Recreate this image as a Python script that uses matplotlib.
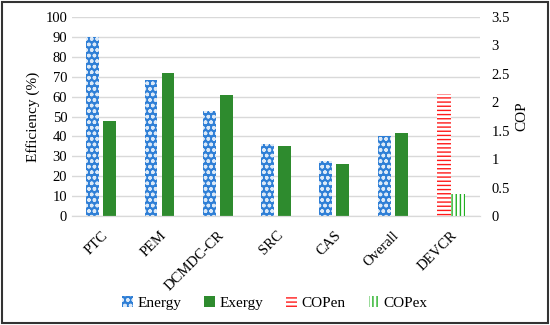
import matplotlib.pyplot as plt
import numpy as np

plt.rcParams['font.family'] = ['Liberation Serif', 'DejaVu Serif']
plt.rcParams['hatch.linewidth'] = 1.0

categories = ['PTC', 'PEM', 'DCMDC-CR', 'SRC', 'CAS', 'Overall', 'DEVCR']
energy = [90, 68.5, 53, 36, 27.5, 40, 0]
exergy = [47.5, 72, 61, 35, 26, 41.5, 0]
cop_en = [0, 0, 0, 0, 0, 0, 2.15]
cop_ex = [0, 0, 0, 0, 0, 0, 0.38]

x = np.arange(len(categories))
w = 0.22

fig = plt.figure(figsize=(5.5, 3.25), dpi=100)
ax = fig.add_axes([0.131, 0.335, 0.742, 0.613])
ax2 = ax.twinx()

ax.bar(x[:6] - 0.146, energy[:6], w, color='#2f7fd6', edgecolor='#dce9f7', hatch='ooo', linewidth=0, label='Energy', zorder=2)
ax.bar(x[:6] + 0.146, exergy[:6], w, color='#2e8b2e', linewidth=0, label='Exergy', zorder=2)
ax2.bar(x[6:] - 0.12, cop_en[6:], 0.24, color='white', edgecolor='#ff1a1a', hatch='----', linewidth=0, label='COPen', zorder=2)
ax2.bar(x[6:] + 0.12, cop_ex[6:], 0.24, color='white', edgecolor='#22b022', hatch='||||', linewidth=0, label='COPex', zorder=2)

ax.set_xlim(-0.5, 6.5)
ax.set_ylim(0, 100)
ax2.set_ylim(0, 3.5)
ax.set_yticks(np.arange(0, 101, 10))
ax2.set_yticks(np.arange(0, 3.6, 0.5))
ax2.set_yticklabels(['0', '0.5', '1', '1.5', '2', '2.5', '3', '3.5'])
ax.yaxis.grid(True, color='#d9d9d9', linewidth=1)
ax.set_axisbelow(True)

ax.set_xticks(x)
ax.set_xticklabels(categories, rotation=45, ha='right', rotation_mode='anchor', fontsize=10.5)
ax.tick_params(axis='y', length=0, labelsize=10.5)
ax.tick_params(axis='x', length=0, labelsize=10.5, pad=9)
ax2.tick_params(length=0, labelsize=10.5, pad=8)
for a in (ax, ax2):
    for s in ['top', 'left', 'right']:
        a.spines[s].set_visible(False)
    a.spines['bottom'].set_color('#d9d9d9')

ax.set_ylabel('Efficiency (%)', fontsize=11)
ax2.set_ylabel('COP', fontsize=11)

h1, l1 = ax.get_legend_handles_labels()
h2, l2 = ax2.get_legend_handles_labels()
fig.legend(h1 + h2, l1 + l2, loc='center', bbox_to_anchor=(0.5, 0.068), ncol=4, frameon=False,
           fontsize=11, handlelength=0.7, handleheight=0.7, handletextpad=0.3, columnspacing=1.5)

fig.patches.append(plt.Rectangle((0.003, 0.005), 0.994, 0.99, transform=fig.transFigure,
                                 fill=False, edgecolor='#333333', linewidth=1.5))

fig.savefig('out.png', dpi=100)
